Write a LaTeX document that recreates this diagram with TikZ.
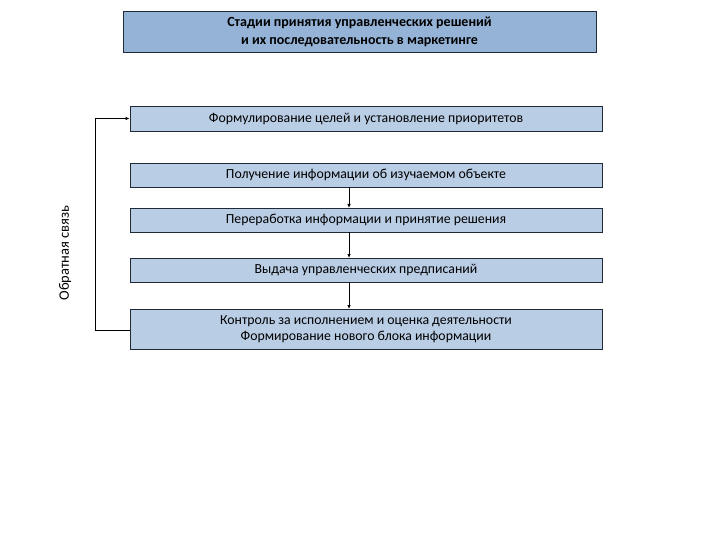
\documentclass[tikz,border=0pt]{standalone}
\usepackage{fontspec}
\setmainfont{Carlito}
\usetikzlibrary{arrows.meta}
\definecolor{titlefill}{HTML}{95B3D7}
\definecolor{boxfill}{HTML}{B9CDE5}
\definecolor{edge}{HTML}{1F2A38}
\begin{document}
\begin{tikzpicture}[x=1pt,y=-1pt,
  stagebox/.style={draw=edge,fill=boxfill,line width=0.8pt,minimum width=472pt,inner sep=0pt,align=center,font=\fontsize{13.8}{16}\selectfont},
  titlebox/.style={draw=edge,fill=titlefill,line width=0.8pt,minimum width=473pt,minimum height=41pt,inner sep=0pt,align=center,font=\bfseries\fontsize{14}{18}\selectfont},
  link/.style={draw=black,line width=1pt,-{Latex[length=4pt,width=3.5pt]}}]
\useasboundingbox (0,0) rectangle (720,540);
\node[titlebox] (t) at (359.5,31.5) {Стадии принятия управленческих решений\\и их последовательность в маркетинге};
\node[stagebox,minimum height=25pt] (b1) at (366,118.5) {Формулирование целей и установление приоритетов};
\node[stagebox,minimum height=24pt] (b2) at (366,175) {Получение информации об изучаемом объекте};
\node[stagebox,minimum height=24pt] (b3) at (366,220) {Переработка информации и принятие решения};
\node[stagebox,minimum height=24pt] (b4) at (366,270) {Выдача управленческих предписаний};
\node[stagebox,minimum height=40pt,font=\fontsize{13.8}{16.5}\selectfont] (b5) at (366,329) {Контроль за исполнением и оценка деятельности\\Формирование нового блока информации};
\draw[link] (349,187) -- (349,208);
\draw[link] (349,232) -- (349,258);
\draw[link] (349,282) -- (349,309);
\coordinate (fb1) at (95,330);
\coordinate (fb2) at (95,118.5);
\draw[link] (b5.west |- fb1) -- (fb1) -- (fb2) -- (b1.west);
\node[rotate=90,font=\fontsize{14.5}{16}\selectfont] (fl) at (65,253) {Обратная связь};
\end{tikzpicture}
\end{document}
